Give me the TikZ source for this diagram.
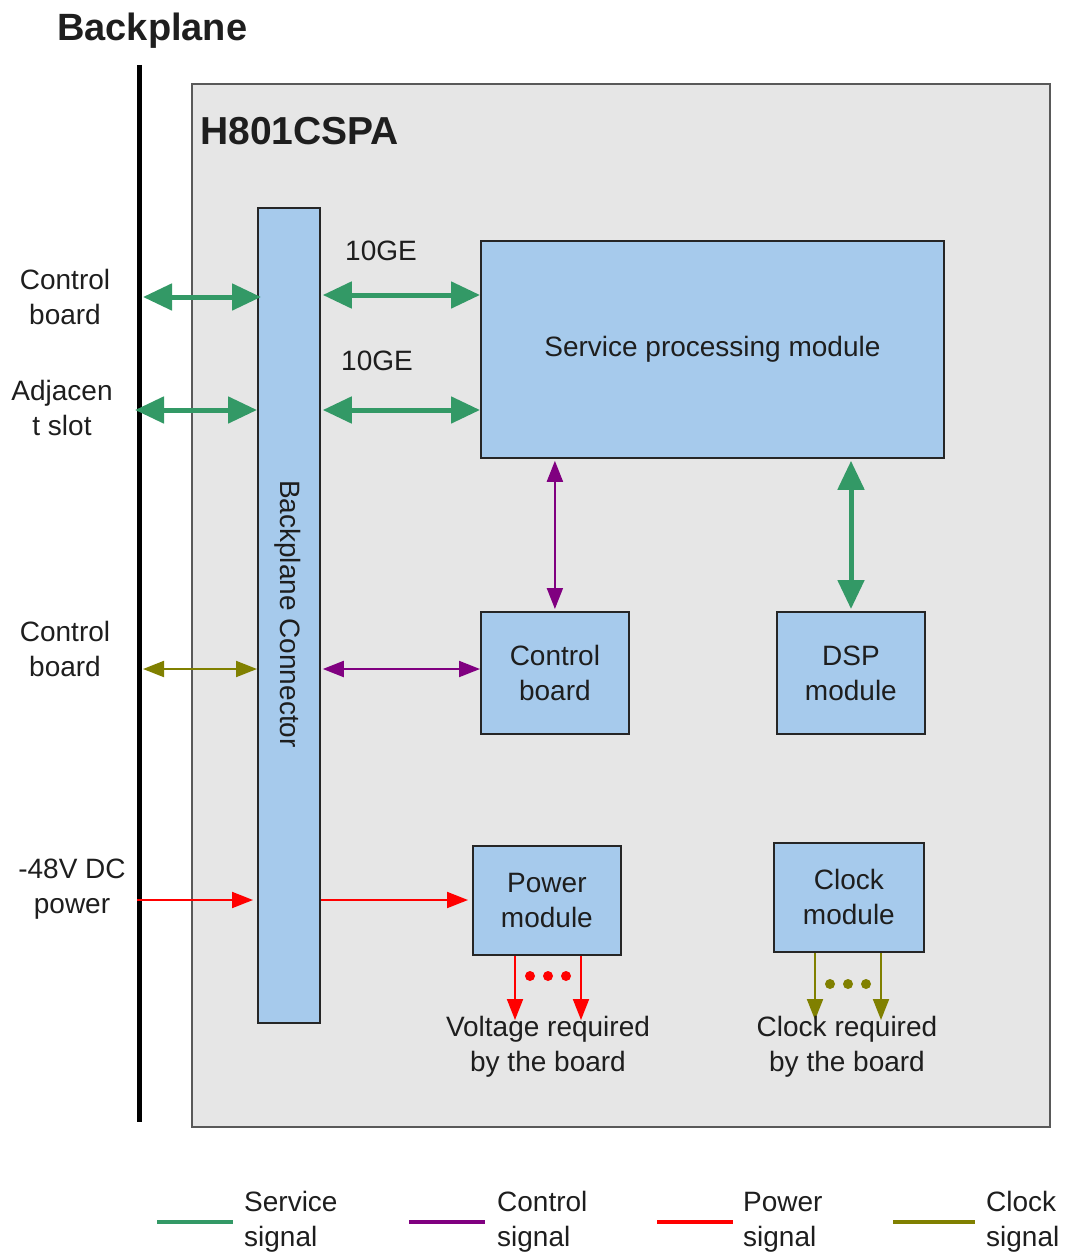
\documentclass[tikz,border=0pt]{standalone}
\usepackage{fontspec}
\setmainfont{Liberation Sans}
\usetikzlibrary{arrows.meta}
\definecolor{svc}{RGB}{51,153,102}
\definecolor{ctl}{RGB}{128,0,128}
\definecolor{pwr}{RGB}{255,0,0}
\definecolor{clk}{RGB}{128,128,0}
\definecolor{boxblue}{RGB}{166,202,236}
\definecolor{panel}{RGB}{230,230,230}
\definecolor{txt}{RGB}{30,30,30}
\tikzset{
  every node/.style={text=txt},
  lbl/.style={font=\fontsize{28}{35}\selectfont, align=center, inner sep=0pt},
  blk/.style={draw=black!85, line width=1.8pt, fill=boxblue, inner sep=0pt, lbl},
  svcarrow/.style={svc, line width=5pt, {Triangle[length=29pt,width=26pt]}-{Triangle[length=29pt,width=26pt]}},
  thinarrow/.style={line width=2pt, {Triangle[length=21pt,width=16pt]}-{Triangle[length=21pt,width=16pt]}},
  downarrow/.style={line width=2pt, -{Triangle[length=21pt,width=16pt]}},
  legline/.style={line width=4pt},
  dotc/.style={circle, inner sep=0pt, minimum size=10pt}
}
\begin{document}
\begin{tikzpicture}[x=1pt,y=-1pt]
\useasboundingbox (0,0) rectangle (1066,1255);
% panel
\node[draw=black!65, line width=2pt, fill=panel, minimum width=858pt, minimum height=1043pt, inner sep=0pt, anchor=north west] (panel) at (191,83) {};
\node[font=\fontsize{39}{40}\selectfont\bfseries, anchor=west, inner sep=0pt] (h801) at (200,131) {H801CSPA};
% backplane line
\coordinate (bptop) at (139,65);
\coordinate (bpbot) at (139,1122);
\draw[line width=5pt, black] (bptop) -- (bpbot);
\node[font=\fontsize{38}{40}\selectfont\bfseries, anchor=west, inner sep=0pt] (bptitle) at (57,31) {Backplane};
% blocks
\node[blk, minimum width=62pt, minimum height=815pt, anchor=north west] (bpc) at (257,207) {};
\node[lbl, rotate=-90] (bpclbl) at (288,614) {Backplane Connector};
\node[blk, minimum width=463pt, minimum height=217pt, anchor=north west] (spm) at (480,240) {Service processing module};
\node[blk, minimum width=148pt, minimum height=122pt, anchor=north west] (cb) at (480,611) {Control\\board};
\node[blk, minimum width=148pt, minimum height=122pt, anchor=north west] (dsp) at (776,611) {DSP\\module};
\node[blk, minimum width=148pt, minimum height=109pt, anchor=north west] (pm) at (472,845) {Power\\module};
\node[blk, minimum width=150pt, minimum height=109pt, anchor=north west] (cm) at (773,842) {Clock\\module};
% left labels
\node[lbl] (l1) at (65,297) {Control\\board};
\node[lbl] (l2) at (62,408) {Adjacen\\t slot};
\node[lbl] (l3) at (65,649) {Control\\board};
\node[lbl] (l4) at (72,889) {-48V DC\\power};
\node[lbl] (ge1) at (381,251) {10GE};
\node[lbl] (ge2) at (377,361) {10GE};
% coordinates on the left
\coordinate (a1) at (143,297);
\coordinate (a2) at (135,410);
\coordinate (a3) at (143,669);
\coordinate (a4) at (137,900);
% service arrows
\draw[svcarrow] (a1) -- ([xshift=4pt]bpc.west |- a1);
\draw[svcarrow] (a2) -- (bpc.west |- a2);
\draw[svcarrow] ([xshift=2pt]bpc.east |- 0,295) -- (spm.west |- 0,295);
\draw[svcarrow] ([xshift=2pt]bpc.east |- 0,410) -- (spm.west |- 0,410);
\draw[svcarrow] ([yshift=-2pt]spm.south -| 851,0) -- ([yshift=2pt]dsp.north -| 851,0);
% control
\draw[ctl, thinarrow] ([yshift=-2pt]spm.south -| cb.north) -- ([yshift=2pt]cb.north);
\draw[ctl, thinarrow] ([xshift=2pt]bpc.east |- 0,669) -- (cb.west |- 0,669);
% clock
\draw[clk, thinarrow] (a3) -- (bpc.west |- a3);
% power
\draw[pwr, downarrow] (a4) -- ([xshift=-4pt]bpc.west |- a4);
\draw[pwr, downarrow] (bpc.east |- 0,900) -- ([xshift=-4pt]pm.west |- 0,900);
% outputs
\coordinate (v1) at (515,1020);
\coordinate (v2) at (581,1020);
\coordinate (c1) at (815,1020);
\coordinate (c2) at (881,1020);
\draw[pwr, downarrow] (pm.south -| v1) -- (v1);
\draw[pwr, downarrow] (pm.south -| v2) -- (v2);
\draw[clk, downarrow] (cm.south -| c1) -- (c1);
\draw[clk, downarrow] (cm.south -| c2) -- (c2);
\foreach \x [count=\i] in {530,548,566} \node[dotc, fill=pwr] (pd\i) at (\x,976) {};
\foreach \x [count=\i] in {830,848,866} \node[dotc, fill=clk] (cd\i) at (\x,984) {};
\node[lbl] (vreq) at (548,1047) {Voltage required\\by the board};
\node[lbl] (creq) at (847,1047) {Clock required\\by the board};
% legend
\coordinate (g1a) at (157,1222); \coordinate (g1b) at (233,1222);
\coordinate (g2a) at (409,1222); \coordinate (g2b) at (485,1222);
\coordinate (g3a) at (657,1222); \coordinate (g3b) at (733,1222);
\coordinate (g4a) at (893,1222); \coordinate (g4b) at (975,1222);
\draw[legline, svc] (g1a) -- (g1b);
\draw[legline, ctl] (g2a) -- (g2b);
\draw[legline, pwr] (g3a) -- (g3b);
\draw[legline, clk] (g4a) -- (g4b);
\node[lbl, align=left, anchor=west] (t1) at (244,1222) {Service\\signal};
\node[lbl, align=left, anchor=west] (t2) at (497,1222) {Control\\signal};
\node[lbl, align=left, anchor=west] (t3) at (743,1222) {Power\\signal};
\node[lbl, align=left, anchor=west] (t4) at (986,1222) {Clock\\signal};
\end{tikzpicture}
\end{document}
